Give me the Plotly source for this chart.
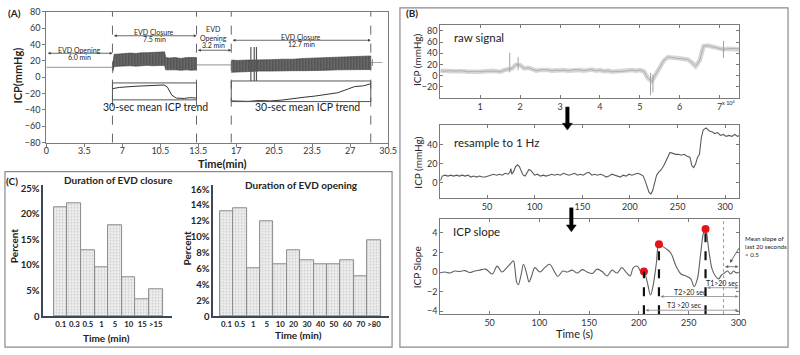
import plotly.graph_objects as go

# ---------------- Panel A data ----------------
a_xtick_labels = ["0", "3.5", "7", "10.5", "13.5", "17", "20.5", "23.5", "27", "30.5"]
a_ytick_vals = [-80, -60, -40, -20, 0, 20, 40, 60, 80]
a_phase_edges = [5.9, 13.4, 16.5, 28.95]
a_phase_names = ["EVD Opening", "EVD Closure", "EVD<br>Opening", "EVD Closure"]
a_phase_durations = ["6.0 min", "7.5 min", "3.2 min", "12.7 min"]

a_open1_x = [0, 5.9]
a_open1_y = [12, 12]
a_open2_x = [13.4, 16.5]
a_open2_y = [15, 15]

a_close1_x = [5.9, 5.95, 6.05, 6.5, 7.0, 7.5, 8.0, 8.5, 9.0, 9.5, 10.0, 10.55, 10.65, 11.0, 11.5, 12.0, 12.5, 13.0, 13.4]
a_close1_hi = [14, 22, 28, 28.5, 29, 29.5, 29, 30, 30, 30.5, 31, 31, 24, 23.5, 24, 23, 24, 23.5, 24]
a_close1_lo = [5, 6, 13, 13.5, 14, 14, 13.5, 14, 14.5, 14, 14, 14.5, 9, 8.5, 9, 8.5, 9, 8.5, 9]

a_close2_x = [16.5, 17, 18, 19, 20, 21, 22, 23, 24, 25, 26, 27, 28, 28.95]
a_close2_hi = [21, 20.5, 21, 21, 21.5, 22, 22, 23, 23.5, 24, 25, 25.5, 26, 26]
a_close2_lo = [6, 7, 7, 7.5, 7.5, 7.5, 8, 8, 8, 8.5, 9, 9, 9.5, 9.5]

a_spike_x = [18.25, 18.55, 18.75]
a_spike_top = [37, 37, 37]
a_spike_bot = [-4.5, -4.5, -4.5]

a_tail_x = [28.95, 30.0]
a_tail_y = [18, 18]

a_trend1_x = [5.9, 6.5, 8.0, 10.5, 10.8, 11.2, 11.6, 12.3, 12.8, 13.4]
a_trend1_y = [-14, -12.5, -11, -9.5, -12, -22, -25.5, -26, -25, -25.5]
a_trend2_x = [16.5, 18, 19, 20, 21, 22, 23, 24, 25, 26, 27, 27.5, 28.3, 28.95]
a_trend2_y = [-29, -29.5, -28.5, -29, -28, -26, -24.5, -23, -21, -19, -14, -11.5, -10.5, -8]
a_trend_box1 = [-27.7, -7]
a_trend_box2 = [-29.8, -4.6]

# ---------------- Panel B data ----------------
b_raw_x = [0.0, 0.1, 0.2, 0.3, 0.4, 0.5, 0.6, 0.7, 0.8, 0.9,
           1.0, 1.1, 1.2, 1.3, 1.4, 1.5, 1.6, 1.7, 1.8, 1.9,
           2.0, 2.1, 2.2, 2.3, 2.4, 2.5, 2.6, 2.7, 2.8, 2.9,
           3.0, 3.1, 3.2, 3.3, 3.4, 3.5, 3.6, 3.7, 3.8, 3.9,
           4.0, 4.1, 4.2, 4.3, 4.4, 4.5, 4.6, 4.7, 4.8, 4.9,
           5.0, 5.1, 5.2, 5.3, 5.4, 5.5, 5.6, 5.7, 5.8, 5.9,
           6.0, 6.1, 6.2, 6.3, 6.4, 6.5, 6.6, 6.7, 6.8, 6.9,
           7.0, 7.1, 7.2, 7.3, 7.4, 7.5]
b_raw_y = [9, 8, 9, 8, 8, 9, 8, 7, 8, 7,
           7, 8, 8, 9, 8, 7, 10, 12, 13, 20,
           19, 13, 14, 12, 9, 10, 11, 10, 9, 10,
           9, 10, 9, 10, 11, 10, 9, 10, 11, 9,
           10, 8, 9, 7, 8, 7, 8, 9, 10, 9,
           10, 8, -4, -10, 2, 16, 27, 33, 33, 31,
           31, 30, 29, 24, 17, 27, 53, 54, 52, 50,
           49, 47, 48, 48, 49, 47]
b_raw_spike_x = [1.74, 1.95, 5.27, 5.33, 7.1]
b_raw_spike_top = [41, 33, 5, 2, 62]
b_raw_spike_bot = [6, 10, -35, -30, 32]

b_rs_x = [1, 3, 6, 9, 12, 15, 18, 21, 24, 27,
          30, 33, 36, 39, 42, 45, 48, 51, 54, 57,
          60, 63, 66, 69, 72, 74, 75, 76, 78, 80,
          82, 84, 86, 88, 90, 92, 94, 96, 98, 100,
          103, 106, 109, 112, 115, 118, 121, 124, 127, 130,
          133, 136, 139, 142, 145, 148, 151, 154, 157, 160,
          163, 166, 169, 172, 175, 178, 181, 184, 187, 190,
          193, 196, 199, 202, 205, 208, 211, 214, 216, 218,
          220, 222, 224, 226, 228, 230, 233, 236, 239, 242,
          245, 248, 251, 254, 257, 260, 263, 265, 267, 269,
          271, 273, 275, 277, 280, 283, 286, 289, 292, 295,
          298, 301, 304, 307, 310, 313, 315]
b_rs_y = [2, 7, 8, 7, 8, 7, 8, 7, 8, 7,
          8, 6, 7, 6, 7, 6, 6, 7, 8, 9,
          8, 9, 8, 10, 9, 11, 15, 9, 12, 17,
          19, 17, 12, 8, 7, 11, 14, 13, 11, 8,
          9, 7, 8, 7, 8, 9, 8, 9, 8, 10,
          9, 8, 9, 10, 8, 9, 8, 10, 11, 8,
          9, 8, 9, 8, 6, 7, 9, 8, 7, 6,
          8, 7, 9, 8, 9, 10, 9, 7, 2, -5,
          -10, -12, -8, 0, 8, 11, 14, 19, 26, 32,
          31, 30, 30, 29, 30, 28, 27, 18, 16, 20,
          27, 30, 48, 56, 58, 55, 54, 52, 53, 50,
          51, 49, 50, 49, 51, 49, 50]

b_sl_x = [0.5, 5, 10, 15, 20, 25, 30, 35, 40, 46,
          52.6, 57.6, 62.4, 67.3, 70.6, 73.9, 75.5, 77.1, 78.7, 81.6,
          84, 87.3, 89.6, 92.2, 95.5, 100.4, 105.4, 110.3, 115.3, 118.5,
          123.5, 128, 133, 138, 143, 148, 153, 158, 163, 168,
          173, 178, 182.8, 187, 191.1, 194.4, 198.4, 201.7, 205, 208.3,
          211.6, 214.2, 217.5, 220.1, 224.1, 229, 232.3, 237.3, 242.2, 247.2,
          252.1, 255.4, 258.7, 262, 265.3, 266.9, 270.2, 273.5, 276.8, 280.1,
          283, 286, 289, 292, 295, 298, 301]
b_sl_y = [-0.1, 0.0, -0.1, 0.1, 0.05, 0.15, -0.05, 0.1, 0.2, 0.3,
          -0.2, 0.6, 0.0, 0.45, 0.8, 1.15, 0.3, -1.0, -1.3, -0.3,
          0.8, -0.2, -1.0, -0.4, 0.45, 0.0, 0.45, 0.8, 0.0, -0.45,
          0.1, 0.0, 0.2, -0.1, 0.25, 0.0, -0.15, 0.3, 0.05, -0.4,
          0.2, -0.1, 0.45, 0.0, -0.4, 0.45, 0.6, 0.1, 0.05, -1.0,
          -2.35, -1.4, 0.9, 2.85, 2.6, 2.25, 1.9, 0.6, -0.2, -0.4,
          -0.7, -1.5, -0.7, 1.9, 4.2, 4.4, 2.2, 0.3, -0.4, -0.7,
          -0.3, -0.1, 0.1, -0.2, 0.1, -0.1, 0.0]
b_peak_x = [205, 220.1, 266.9]
b_peak_y = [0.05, 2.85, 4.4]
b_window_x = 285
b_end_x = 300
b_interval_labels = ["T1>20 sec", "T2>20 sec", "T3 >20 sec"]
b_interval_start = [266.9, 220.1, 205]

# ---------------- Panel C data ----------------
c_close_cats = ["0.1", "0.3", "0.5", "1", "5", "10", "15", ">15"]
c_close_pct = [21.3, 22.0, 12.9, 9.6, 17.8, 7.6, 3.4, 5.2]
c_open_cats = ["0.1", "0.5", "1", "5", "10", "20", "30", "40", "50", "60", "70", ">80"]
c_open_pct = [13.2, 13.6, 6.1, 12.0, 6.5, 8.3, 7.1, 6.6, 6.5, 7.1, 5.1, 9.6]

# ---------------- helpers ----------------
W, H = 800, 355


def PX(v):
    return v / W


def PY(v):
    return 1 - v / H


FONT = "Lato"
TXT = "#222222"
fig = go.Figure()


def segs(xs, tops, bots):
    X, Y = [], []
    for x, t, b in zip(xs, tops, bots):
        X += [x, x, None]
        Y += [b, t, None]
    return X, Y


# ---------------- Panel A traces ----------------
for xs, ys in [(a_open1_x, a_open1_y), (a_open2_x, a_open2_y), (a_tail_x, a_tail_y)]:
    fig.add_trace(go.Scatter(x=xs, y=ys, mode="lines", line=dict(color="#a8a8a8", width=1.2),
                             xaxis="x", yaxis="y", hoverinfo="skip"))
for xs, hi, lo in [(a_close1_x, a_close1_hi, a_close1_lo), (a_close2_x, a_close2_hi, a_close2_lo)]:
    fig.add_trace(go.Scatter(x=xs + xs[::-1], y=hi + lo[::-1], mode="lines", fill="toself",
                             line=dict(color="#3a3a3a", width=0.6), fillcolor="#5a5a5a",
                             fillpattern=dict(shape="|", fgcolor="#1e1e1e", bgcolor="#7a7a7a",
                                              size=3, solidity=0.6),
                             xaxis="x", yaxis="y", hoverinfo="skip"))
sx, sy = segs(a_spike_x, a_spike_top, a_spike_bot)
fig.add_trace(go.Scatter(x=sx, y=sy, mode="lines", line=dict(color="#555555", width=1.2),
                         xaxis="x", yaxis="y", hoverinfo="skip"))
sx, sy = segs([a_tail_x[0] + 0.15], [22], [14])
fig.add_trace(go.Scatter(x=sx, y=sy, mode="lines", line=dict(color="#888888", width=1),
                         xaxis="x", yaxis="y", hoverinfo="skip"))
for xs, ys in [(a_trend1_x, a_trend1_y), (a_trend2_x, a_trend2_y)]:
    fig.add_trace(go.Scatter(x=xs, y=ys, mode="lines", line=dict(color="#333333", width=1),
                             xaxis="x", yaxis="y", hoverinfo="skip"))

# ---------------- Panel B traces ----------------
fig.add_trace(go.Scatter(x=b_raw_x, y=b_raw_y, mode="lines", line=dict(color="#d6d6d6", width=4.5),
                         xaxis="x2", yaxis="y2", hoverinfo="skip"))
fig.add_trace(go.Scatter(x=b_raw_x, y=b_raw_y, mode="lines", line=dict(color="#b0b0b0", width=1),
                         xaxis="x2", yaxis="y2", hoverinfo="skip"))
sx, sy = segs(b_raw_spike_x, b_raw_spike_top, b_raw_spike_bot)
fig.add_trace(go.Scatter(x=sx, y=sy, mode="lines", line=dict(color="#a0a0a0", width=1),
                         xaxis="x2", yaxis="y2", hoverinfo="skip"))

fig.add_trace(go.Scatter(x=b_rs_x, y=b_rs_y, mode="lines", line=dict(color="#5a5a5a", width=1.1),
                         xaxis="x3", yaxis="y3", hoverinfo="skip"))

fig.add_trace(go.Scatter(x=b_sl_x, y=b_sl_y, mode="lines", line=dict(color="#606060", width=1.1, shape="spline"),
                         xaxis="x4", yaxis="y4", hoverinfo="skip"))
fig.add_trace(go.Scatter(x=b_peak_x, y=b_peak_y, mode="markers", marker=dict(color="#e8121b", size=8),
                         xaxis="x4", yaxis="y4", hoverinfo="skip"))

# ---------------- Panel C traces ----------------
bar_marker = dict(color="#ececec", line=dict(color="#8a8a8a", width=1),
                  pattern=dict(shape=".", fgcolor="#a8a8a8", bgcolor="#f0f0f0", size=3, solidity=0.35))
fig.add_trace(go.Bar(x=c_close_cats, y=c_close_pct, marker=bar_marker, xaxis="x5", yaxis="y5", hoverinfo="skip"))
fig.add_trace(go.Bar(x=c_open_cats, y=c_open_pct, marker=bar_marker, xaxis="x6", yaxis="y6", hoverinfo="skip"))

# ---------------- shapes ----------------
shapes = []
for e in a_phase_edges:
    shapes.append(dict(type="line", xref="x", yref="y", x0=e, x1=e, y0=-80, y1=80,
                       line=dict(color="#666666", width=1, dash="dash")))
shapes.append(dict(type="rect", xref="x", yref="y", x0=a_phase_edges[0], x1=a_phase_edges[1],
                   y0=a_trend_box1[0], y1=a_trend_box1[1], line=dict(color="#555555", width=1)))
shapes.append(dict(type="rect", xref="x", yref="y", x0=a_phase_edges[2], x1=a_phase_edges[3],
                   y0=a_trend_box2[0], y1=a_trend_box2[1], line=dict(color="#555555", width=1)))
# panel borders
shapes.append(dict(type="rect", xref="paper", yref="paper", x0=PX(403), x1=PX(797), y0=PY(352), y1=PY(2),
                   line=dict(color="#8a8a8a", width=1.2)))
shapes.append(dict(type="rect", xref="paper", yref="paper", x0=PX(2), x1=PX(395), y0=PY(352), y1=PY(171),
                   line=dict(color="#8a8a8a", width=1.2)))
# slope panel markers
for xp, yp in zip(b_peak_x, b_peak_y):
    shapes.append(dict(type="line", xref="x4", yref="y4", x0=xp, x1=xp, y0=-4.3, y1=yp,
                       line=dict(color="#111111", width=2.2, dash="dash")))
shapes.append(dict(type="line", xref="x4", yref="y4", x0=b_window_x, x1=b_window_x, y0=-4.3, y1=5.4,
                   line=dict(color="#999999", width=1, dash="dot")))
# thick process arrows between the B sub-panels (shaft + head)
for xa, ytop, ytip in [(573, 104, 128), (577, 208, 233)]:
    shapes.append(dict(type="line", xref="paper", yref="paper", x0=PX(xa), x1=PX(xa), y0=PY(ytop),
                       y1=PY(ytip - 6), line=dict(color="#000000", width=4)))
    shapes.append(dict(type="path", xref="paper", yref="paper",
                       path=f"M {PX(xa - 5)},{PY(ytip - 7)} L {PX(xa + 5)},{PY(ytip - 7)} L {PX(xa)},{PY(ytip)} Z",
                       fillcolor="#000000", line=dict(color="#000000", width=0.5)))

# ---------------- annotations ----------------
ann = []


def T(text, x, y, size=9, bold=False, xref="paper", yref="paper", xanchor="center", yanchor="middle",
      angle=0, color=TXT, align="center"):
    if bold:
        text = "<b>" + text + "</b>"
    ann.append(dict(text=text, x=x, y=y, xref=xref, yref=yref, xanchor=xanchor, yanchor=yanchor,
                    showarrow=False, textangle=angle, align=align,
                    font=dict(family=FONT, size=size, color=color)))


def ARROW(x0, x1, y, xref, yref, color="#444444", width=0.8, size=0.7, both=True):
    ann.append(dict(text="", x=x1, y=y, ax=x0, ay=y, xref=xref, yref=yref, axref=xref, ayref=yref,
                    showarrow=True, arrowhead=2, arrowsize=size, arrowwidth=width, arrowcolor=color,
                    arrowside="end+start" if both else "end"))


# Panel A texts
T("(A)", PX(12), PY(7), size=10, bold=True)
T("ICP(mmHg)", PX(15), PY(72), size=11, bold=True, angle=-90)
T("Time(min)", PX(222), PY(163), size=11, bold=True)
bounds = [0] + a_phase_edges
arrow_y = [29.3, 50.7, 33.0, 45.2]
name_y = [33.5, 55, 53.5, 49]
dur_y = [24.8, 46.3, 39.5, 40.6]
for i in range(4):
    x0, x1 = bounds[i], bounds[i + 1]
    mid = (x0 + x1) / 2
    ARROW(x0, x1, arrow_y[i], "x", "y")
    T(a_phase_names[i], mid, name_y[i], size=7, xref="x", yref="y")
    T(a_phase_durations[i], mid, dur_y[i], size=7, xref="x", yref="y")
T("30-sec mean ICP trend", (a_phase_edges[0] + a_phase_edges[1]) / 2 + 0.1, -36.5, size=10.5, xref="x", yref="y")
T("30-sec mean ICP trend", (a_phase_edges[2] + a_phase_edges[3]) / 2 + 0.6, -36.5, size=10.5, xref="x", yref="y")

# Panel B texts
T("(B)", PX(415), PY(7), size=10, bold=True)
T("ICP (mmHg)", PX(421), PY(56), size=10, angle=-90)
T("ICP (mmHg)", PX(421), PY(162), size=10, angle=-90)
T("ICP Slope", PX(420), PY(270), size=10, angle=-90)
T("Time (s)", PX(580), PY(338), size=11)
T("raw signal", PX(456), PY(33), size=11.5, xanchor="left")
T("resample to 1 Hz", PX(456), PY(141), size=11.5, xanchor="left")
T("ICP slope", PX(455), PY(233), size=11.5, xanchor="left")
T("x 10<sup>4</sup>", PX(737), PY(100), size=5.5)
T("Mean slope of<br>last 20 seconds<br>< 0.5", PX(751), PY(234), size=6.2, xanchor="left", yanchor="top",
  align="left")
ylev = [-1.6, -2.5, -3.9]
tlev = [-1.15, -2.05, -3.35]
tx = [284, 252, 246]
for s, yl, tl, lab, xx in zip(b_interval_start, ylev, tlev, b_interval_labels, tx):
    ARROW(s, b_end_x, yl, "x4", "y4", color="#888888", width=0.8, size=0.8)
    T(lab, xx, tl, size=7, xref="x4", yref="y4")
ARROW(b_window_x, b_end_x, 0.55, "x4", "y4", color="#666666", width=0.8, size=0.8)
ann.append(dict(text="", x=291.5, y=0.95, ax=301.5, ay=2.6, xref="x4", yref="y4", axref="x4", ayref="y4",
                showarrow=True, arrowhead=2, arrowsize=0.8, arrowwidth=0.8, arrowcolor="#444444"))

# Panel C texts
T("(C)", PX(9), PY(181), size=10, bold=True)
T("Duration of EVD closure", PX(117), PY(180), size=10, bold=True)
T("Duration of EVD opening", PX(303), PY(185), size=10, bold=True)
T("Percent", PX(12), PY(247), size=10, bold=True, angle=-90)
T("Percent", PX(187), PY(250), size=10, bold=True, angle=-90)
T("Time (min)", PX(105), PY(343), size=10, bold=True)
T("Time (min)", PX(300), PY(340), size=10, bold=True)

# ---------------- axes ----------------
tick_font = dict(family=FONT, size=9, color="#333333")
ctick_font = dict(family=FONT, size=9.5, color="#222222", weight="bold")
cxtick_font = dict(family=FONT, size=7.8, color="#222222", weight="bold")


def ax_box(domain, rng, tickvals, ticktext=None, anchor=None, ticks="inside", mirror="ticks"):
    d = dict(domain=domain, range=rng, tickvals=tickvals, showline=True, linecolor="#7a7a7a", linewidth=1,
             mirror=mirror, ticks=ticks, ticklen=3, tickcolor="#7a7a7a", showgrid=False, zeroline=False,
             tickfont=tick_font, anchor=anchor, fixedrange=True, tickangle=0)
    if ticktext is not None:
        d["ticktext"] = ticktext
    return d


a_tick_pos = [i * 30.5 / 9 for i in range(len(a_xtick_labels))]
layout_axes = dict(
    xaxis=ax_box([PX(44), PX(391)], [0, 30.5], a_tick_pos, a_xtick_labels, "y", ticks="outside", mirror=True),
    yaxis=ax_box([PY(141), PY(6)], [-80, 80], a_ytick_vals, None, "x", ticks="outside", mirror=True),
    xaxis2=ax_box([PX(444), PX(747.7)], [0, 7.5], [1, 2, 3, 4, 5, 6, 7], None, "y2"),
    yaxis2=ax_box([PY(95), PY(20)], [-40, 90], [-20, 0, 20, 40, 60, 80], None, "x2"),
    xaxis3=ax_box([PX(444), PX(747.7)], [1, 315], [50, 100, 150, 200, 250, 300], None, "y3"),
    yaxis3=ax_box([PY(198), PY(123.3)], [-16, 60.5], [0, 20, 40], None, "x3"),
    xaxis4=ax_box([PX(444), PX(747.7)], [0.5, 301], [50, 100, 150, 200, 250, 300], None, "y4"),
    yaxis4=ax_box([PY(318), PY(220)], [-4.3, 5.4], [-4, -2, 0, 2, 4], None, "x4"),
)
layout_axes["xaxis"]["ticklabelstandoff"] = -3
cline = "#3b4858"
layout_axes["xaxis5"] = dict(domain=[PX(40.7), PX(171.7)], type="category", range=[-1.3, 8.2], showline=True,
                             linecolor=cline, linewidth=1.5, ticks="", showgrid=False, zeroline=False,
                             tickfont=cxtick_font, tickangle=0, anchor="y5", fixedrange=True)
layout_axes["yaxis5"] = dict(domain=[PY(320.3), PY(185)], range=[0, 25.6], tickvals=[0, 5, 10, 15, 20, 25],
                             ticktext=["0", "5%", "10%", "15%", "20%", "25%"], showline=True, linecolor=cline,
                             linewidth=1.5, ticks="", showgrid=False, zeroline=False, tickfont=ctick_font,
                             anchor="x5", fixedrange=True)
layout_axes["xaxis6"] = dict(domain=[PX(213.3), PX(391.7)], type="category", range=[-1.0, 12.1], showline=True,
                             linecolor=cline, linewidth=1.5, ticks="", showgrid=False, zeroline=False,
                             tickfont=cxtick_font, tickangle=0, anchor="y6", fixedrange=True)
layout_axes["yaxis6"] = dict(domain=[PY(320.3), PY(185)], range=[0, 16.5], tickvals=list(range(0, 17, 2)),
                             ticktext=["0"] + [f"{v}%" for v in range(2, 17, 2)], showline=True, linecolor=cline,
                             linewidth=1.5, ticks="", showgrid=False, zeroline=False, tickfont=ctick_font,
                             anchor="x6", fixedrange=True)

fig.update_layout(
    width=W, height=H, margin=dict(l=0, r=0, t=0, b=0), paper_bgcolor="white", plot_bgcolor="white",
    showlegend=False, bargap=0, font=dict(family=FONT, color=TXT), shapes=shapes, annotations=ann,
    **layout_axes,
)

fig.write_html("out.html", config={"displayModeBar": False},
               post_script="document.body.style.margin='0px';document.body.style.overflow='hidden';")
